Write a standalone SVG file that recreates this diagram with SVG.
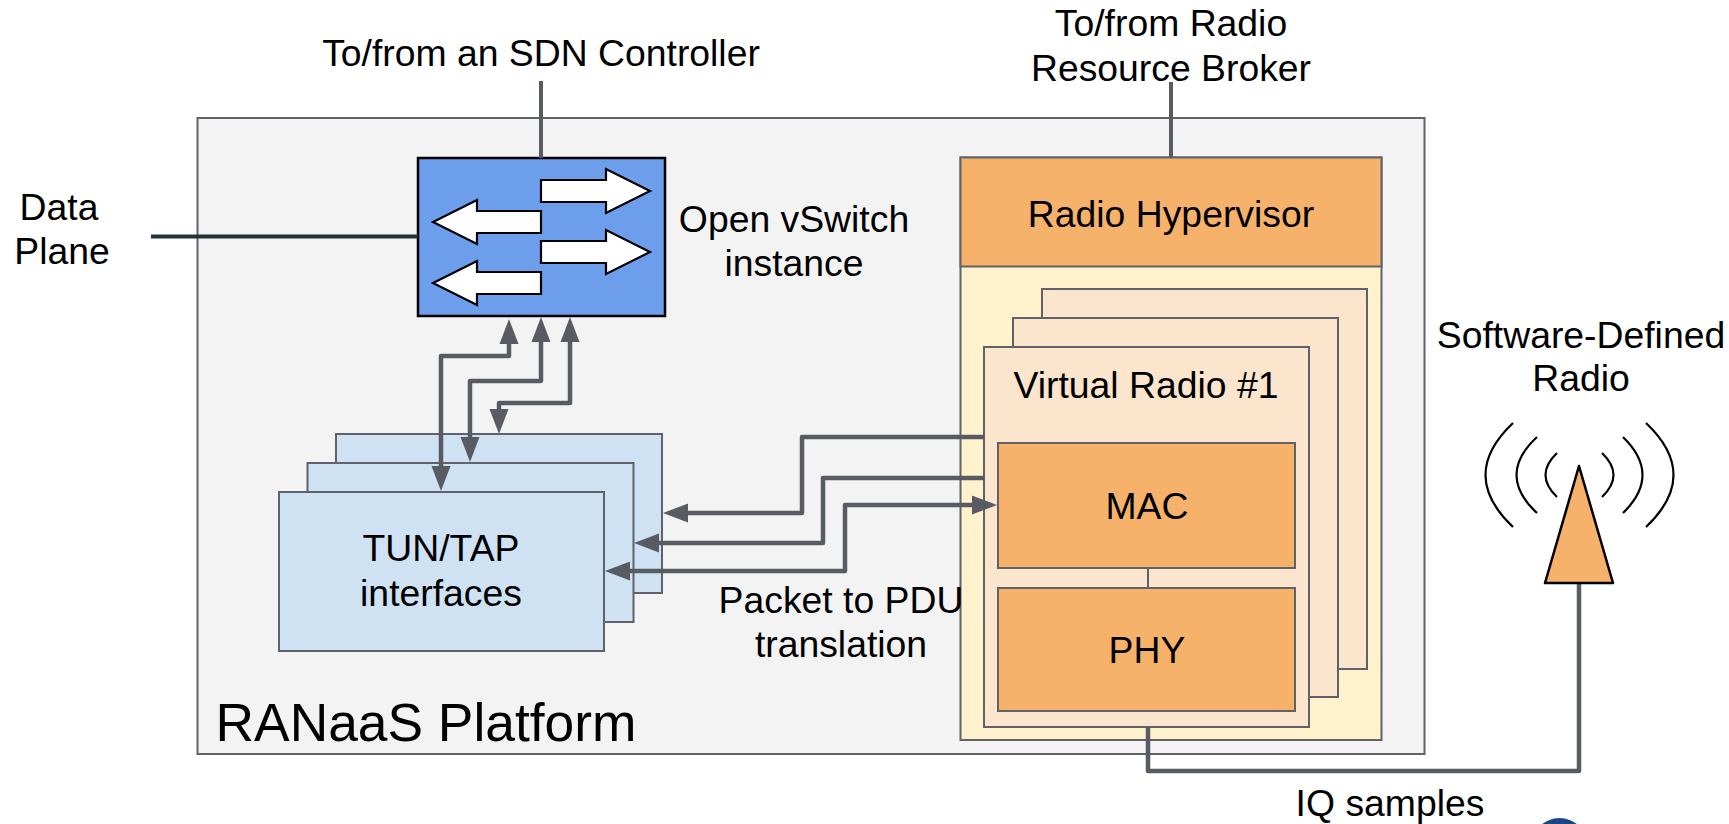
<svg xmlns="http://www.w3.org/2000/svg" width="1729" height="824" viewBox="0 0 1729 824">
<style>
text{font-family:"Liberation Sans",Arial,sans-serif;font-size:37.33px;fill:#000;text-anchor:middle}
.box{stroke:#5f626b;stroke-width:2}
.peach{fill:#fce5cd}.orange{fill:#f6b26b}.tun{fill:#cfe2f3}
.arrow{fill:#fff;stroke:#000;stroke-width:2.2;stroke-linejoin:miter}
.conn{fill:none;stroke:#595b63;stroke-width:4.5;stroke-linejoin:round}
.wave{fill:none;stroke:#000;stroke-width:2.2}
</style>
<defs>
<marker id="ah" markerUnits="userSpaceOnUse" markerWidth="26" markerHeight="20" refX="17" refY="10" orient="auto-start-reverse"><path d="M0 0.500L25 10L0 19.500Z" fill="#595b63"/></marker>
</defs>
<rect width="1729" height="824" fill="#fff"/>
<g id="platform">
<rect class="box" x="197.500" y="118" width="1227" height="636" fill="#f3f3f3"/>
<text x="426" y="741" style="font-size:53.33px">RANaaS Platform</text>
</g>
<g id="tun-tap">
<rect class="box tun" x="336" y="434" width="326" height="159"/>
<rect class="box tun" x="307.500" y="463" width="326" height="159"/>
<rect class="box tun" x="279" y="492" width="325" height="159"/>
<text x="441" y="561">TUN/TAP</text>
<text x="441" y="606">interfaces</text>
</g>
<g id="vswitch">
<rect x="418" y="158" width="247" height="158" fill="#6d9eeb" stroke="#000" stroke-width="2.500"/>
<path class="arrow" d="M541 180H606V169L650 191L606 213V202H541Z"/>
<path class="arrow" d="M541 241H606V230L650 252L606 274V263H541Z"/>
<path class="arrow" d="M541 211H477V200L433 222L477 244V233H541Z"/>
<path class="arrow" d="M541 272H477V261L433 283L477 305V294H541Z"/>
<text x="794" y="232">Open vSwitch</text>
<text x="794" y="276">instance</text>
</g>
<g id="radio-stack">
<rect class="box" x="960.500" y="157.500" width="421" height="582.500" fill="#fff2cc"/>
<rect class="box orange" x="960.500" y="157.500" width="421" height="109"/>
<text x="1171" y="227">Radio Hypervisor</text>
<rect class="box peach" x="1042" y="289" width="325" height="380"/>
<rect class="box peach" x="1013" y="318" width="325" height="379"/>
<rect class="box peach" x="984" y="347" width="325" height="380"/>
<text x="1146" y="398">Virtual Radio #1</text>
</g>
<g id="mac">
<rect class="box orange" x="998" y="443" width="297" height="125"/>
<text x="1147" y="519">MAC</text>
</g>
<g id="phy">
<rect class="box orange" x="998" y="588" width="297" height="123"/>
<text x="1147" y="663">PHY</text>
</g>
<g id="connectors">
<path d="M1148 568V588" fill="none" stroke="#5f626b" stroke-width="2"/>
<path d="M541 81V158" fill="none" stroke="#595b63" stroke-width="4"/>
<path d="M1171 82V157" fill="none" stroke="#595b63" stroke-width="4"/>
<path d="M151 236.500H418" fill="none" stroke="#263238" stroke-width="4"/>
<path class="conn" d="M441 483V356H509V327" marker-start="url(#ah)" marker-end="url(#ah)"/>
<path class="conn" d="M470 454V381H541V325" marker-start="url(#ah)" marker-end="url(#ah)"/>
<path class="conn" d="M499 426V403H570V325" marker-start="url(#ah)" marker-end="url(#ah)"/>
<path class="conn" d="M984 437H802V513H671" marker-end="url(#ah)"/>
<path class="conn" d="M984 478H823V543H642" marker-end="url(#ah)"/>
<path class="conn" d="M613 571H845V505H989" marker-start="url(#ah)" marker-end="url(#ah)"/>
<path class="conn" d="M1148 727V771H1579V583"/>
</g>
<g id="antenna">
<path d="M1579 466L1545 583H1613Z" fill="#f6b26b" stroke="#000" stroke-width="2.500" stroke-linejoin="round"/>
<path class="wave" d="M1513 423Q1458 475 1513 527M1537 437Q1496 475 1537 513M1557 453Q1534 475 1557 497"/>
<path class="wave" d="M1646 423Q1701 475 1646 527M1623 437Q1662 475 1623 513M1602 453Q1625 475 1602 497"/>
</g>
<g id="labels">
<text x="541" y="66">To/from an SDN Controller</text>
<text x="1171" y="36">To/from Radio</text>
<text x="1171" y="81">Resource Broker</text>
<text x="59" y="220">Data</text>
<text x="62" y="264">Plane</text>
<text x="1581" y="348">Software-Defined</text>
<text x="1581" y="391">Radio</text>
<text x="841" y="613">Packet to PDU</text>
<text x="841" y="657">translation</text>
<text x="1390" y="816">IQ samples</text>
</g>
<circle cx="1559.500" cy="846" r="28" fill="#1c4587"/>
</svg>
